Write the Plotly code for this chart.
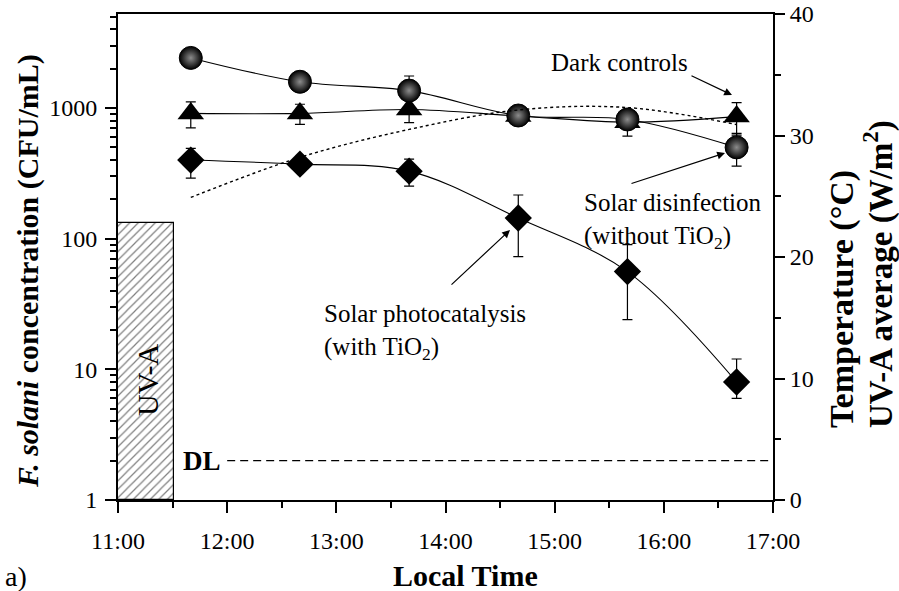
import plotly.graph_objects as go

# ---------------- data ----------------
day = "2000-01-01 "
sample_times = ["11:40", "12:40", "13:40", "14:40", "15:40", "16:40"]

photocatalysis = [400, 372, 329, 144, 56, 8]            # with TiO2 (diamonds)
photocatalysis_err_plus = [92, 30, 77, 72, 34, 4]
photocatalysis_err_minus = [109, 30, 76, 71, 32, 2]

disinfection = [2420, 1590, 1360, 877, 818, 500]        # without TiO2 (spheres)
disinfection_err = [60, 60, 400, 40, 40, 140]

dark_controls = [910, 910, 975, 870, 780, 860]          # triangles
dark_controls_err = [205, 160, 200, 60, 170, 240]

temperature = [24.9, 28.2, 30.5, 32.1, 32.3, 30.9]      # right axis (°C)

uva_start = "11:00"
uva_minutes = 31
uva_average = 22.8                                      # right axis (W/m2)

dl_value = 2
dl_start = "12:00"
x_start, x_end = "11:00", "17:00"

left_tickvals = [1, 10, 100, 1000]
left_minor = [m * d for d in (1, 10, 100, 1000) for m in range(2, 10) if m * d <= 5000]

# ---------------- figure ----------------
FONT = "Liberation Serif, Times New Roman, serif"
W, H = 899, 591
L, R, T, B = 118, 126, 14, 91
PW, PH = W - L - R, H - T - B


def px(xp):
    return (xp - L) / PW


def py(yp):
    return (H - B - yp) / PH


x = [day + t for t in sample_times]

fig = go.Figure()

# UV-A hatched bar
fig.add_trace(go.Bar(
    x=[day + uva_start], y=[uva_average], width=[uva_minutes * 60000], offset=0,
    yaxis="y2",
    marker=dict(color="white", line=dict(color="black", width=1.2),
                pattern=dict(shape="/", fgcolor="black", bgcolor="white", size=6, solidity=0.2)),
))

# temperature dotted curve
fig.add_trace(go.Scatter(
    x=x, y=temperature, yaxis="y2", mode="lines",
    line=dict(color="black", width=1.4, dash="dot", shape="spline", smoothing=1.0),
))

# detection limit
fig.add_trace(go.Scatter(
    x=[day + dl_start, day + x_end], y=[dl_value, dl_value], mode="lines",
    line=dict(color="black", width=1.3, dash="8px,5px"),
))

err_style = dict(color="black", thickness=1.2, width=5)

fig.add_trace(go.Scatter(
    x=x, y=photocatalysis, mode="lines+markers",
    line=dict(color="black", width=1.1, shape="spline", smoothing=1.0),
    marker=dict(symbol="diamond", size=21, color="black"),
    error_y=dict(type="data", array=photocatalysis_err_plus,
                 arrayminus=photocatalysis_err_minus, **err_style),
))

fig.add_trace(go.Scatter(
    x=x, y=dark_controls, mode="lines+markers",
    line=dict(color="black", width=1.1, shape="spline", smoothing=1.0),
    marker=dict(symbol="triangle-up", size=23, color="black"),
    error_y=dict(type="data", array=dark_controls_err, **err_style),
))

fig.add_trace(go.Scatter(
    x=x, y=disinfection, mode="lines+markers",
    line=dict(color="black", width=1.1, shape="spline", smoothing=1.0),
    marker=dict(symbol="circle", size=23, color="#000000",
                gradient=dict(type="radial", color="#8c8c8c"),
                line=dict(color="black", width=1)),
    error_y=dict(type="data", array=disinfection_err, **err_style),
))

tickfont = dict(family=FONT, size=24, color="black")


def afont(size=25):
    return dict(family=FONT, size=size, color="black")


fig.update_layout(
    width=W, height=H,
    margin=dict(l=L, r=R, t=T, b=B, pad=0, autoexpand=False),
    paper_bgcolor="white", plot_bgcolor="white",
    showlegend=False,
    bargap=0,
    xaxis=dict(
        type="date", range=[day + x_start, day + x_end], automargin=False,
        tickformat="%H:%M", tick0=day + x_start, dtick=3600000,
        ticks="outside", ticklen=11, tickwidth=2, tickcolor="black",
        ticklabelstandoff=7,
        showline=True, linewidth=2, linecolor="black", mirror=True,
        showgrid=False, zeroline=False, tickfont=tickfont,
        minor=dict(dtick=1800000, tick0=day + x_start, ticks="outside",
                   ticklen=6, tickwidth=2, tickcolor="black", showgrid=False),
    ),
    yaxis=dict(
        type="log", range=[0, 3.72], automargin=False,
        tickvals=left_tickvals, ticktext=[str(v) for v in left_tickvals],
        ticks="outside", ticklen=11, tickwidth=2, tickcolor="black",
        ticklabelstandoff=3,
        showline=True, linewidth=2, linecolor="black",
        showgrid=False, zeroline=False, tickfont=tickfont,
        minor=dict(tickvals=left_minor, ticks="outside", ticklen=6,
                   tickwidth=2, tickcolor="black", showgrid=False),
    ),
    yaxis2=dict(
        overlaying="y", side="right", range=[0, 40], automargin=False,
        tick0=0, dtick=10,
        ticks="outside", ticklen=10, tickwidth=2, tickcolor="black",
        showline=True, linewidth=2, linecolor="black",
        showgrid=False, zeroline=False, tickfont=tickfont,
        minor=dict(dtick=5, ticks="outside", ticklen=6, tickwidth=2,
                   tickcolor="black", showgrid=False),
    ),
)

annotations = [
    # axis titles
    dict(text="<b><i>F. solani</i> concentration (CFU/mL)</b>", textangle=-90,
         x=px(28), y=py(271), xanchor="center", yanchor="middle", font=afont(30)),
    dict(text="<b>Local Time</b>", x=px(465), y=py(575), xanchor="center", yanchor="middle",
         font=afont(30)),
    dict(text="<b>Temperature (°C)</b>", textangle=-90,
         x=px(842), y=py(430), xanchor="center", yanchor="bottom", font=afont(34)),
    dict(text="<b>UV-A average (W/m<sup>2</sup>)</b>", textangle=-90,
         x=px(878), y=py(430), xanchor="center", yanchor="bottom", font=afont(33)),
    dict(text="a)", x=px(3), y=py(576), xanchor="left", yanchor="middle", font=afont(28)),
    # in-plot labels
    dict(text="UV-A", textangle=-90, x=px(147), y=py(380), xanchor="center", yanchor="middle",
         font=afont(30)),
    dict(text="<b>DL</b>", x=px(223), y=py(461), xanchor="right", yanchor="middle",
         font=afont(27)),
    dict(text="Dark controls", x=px(549), y=py(62), xanchor="left", yanchor="middle",
         font=afont()),
    dict(text="Solar disinfection<br>(without TiO<sub>2</sub>)", align="left",
         x=px(582), y=py(221), xanchor="left", yanchor="middle", font=afont()),
    dict(text="Solar photocatalysis<br>(with TiO<sub>2</sub>)", align="left",
         x=px(322), y=py(332), xanchor="left", yanchor="middle", font=afont()),
]

arrows = [((732, 95), (690, 75)), ((725, 153), (630, 184)), ((510, 230), (450, 286))]
for (hx, hy), (tx, ty) in arrows:
    annotations.append(dict(x=px(hx), y=py(hy), ax=tx - hx, ay=ty - hy, text="",
                            showarrow=True, arrowhead=2, arrowsize=1.3, arrowwidth=1.2,
                            arrowcolor="black", standoff=0, startstandoff=0))

for a in annotations:
    a.setdefault("xref", "paper")
    a.setdefault("yref", "paper")
    a.setdefault("showarrow", False)

fig.update_layout(annotations=annotations)

fig.write_html("out.html", config={"displayModeBar": False},
               post_script="document.body.style.margin='0px';")
